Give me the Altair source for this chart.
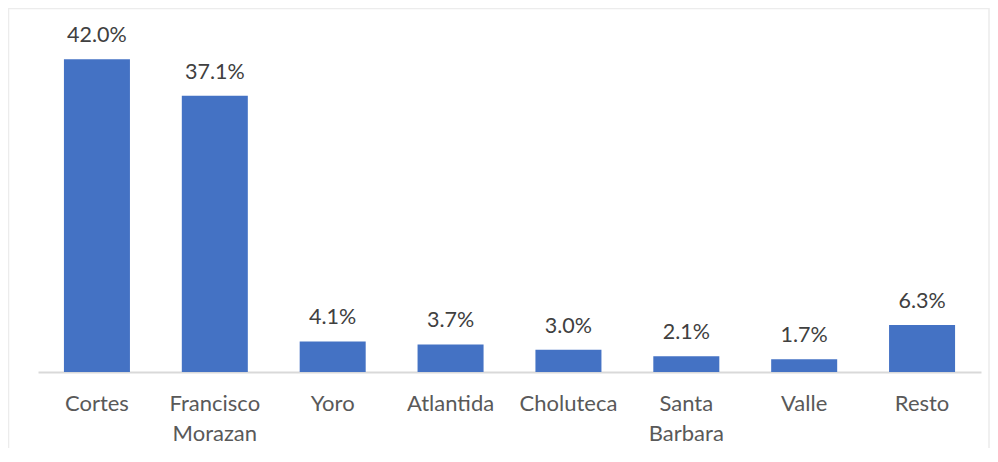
import altair as alt
import pandas as pd

categories = ["Cortes", "Francisco Morazan", "Yoro", "Atlantida", "Choluteca",
              "Santa Barbara", "Valle", "Resto"]
values = [42.0, 37.1, 4.1, 3.7, 3.0, 2.1, 1.7, 6.3]

df = pd.DataFrame({"cat": categories, "v": values})

FONT = "Lato"

x = alt.X("cat:N", sort=categories, title=None,
          scale=alt.Scale(paddingInner=0.44, paddingOuter=0.22),
          axis=alt.Axis(labelAngle=0, labelExpr="split(datum.label, ' ')",
                        labelFont=FONT, labelFontSize=22, labelColor="#595959",
                        labelLineHeight=30, labelPadding=21, ticks=False, tickSize=0,
                        domainColor="#d9d9d9", domainWidth=2, labelBaseline="top"))
y = alt.Y("v:Q", title=None, scale=alt.Scale(domain=[0, 45], nice=False),
          axis=None)

bars = alt.Chart(df).mark_bar(color="#4472C4").encode(x=x, y=y)

labels = alt.Chart(df).transform_calculate(
    lab="format(datum.v, '.1f') + '%'"
).mark_text(baseline="bottom", dy=-12, font=FONT, fontSize=21.5,
            color="#404040").encode(x=x, y=y, text="lab:N")

border = alt.Chart(alt.Data(values=[{}])).mark_rect(
    fill="transparent", stroke="#ececec", strokeWidth=1.5
).encode(x=alt.value(-29.5), x2=alt.value(951), y=alt.value(-28.5), y2=alt.value(700))

chart = alt.layer(border, bars, labels).properties(
    width=943, height=335,
    autosize=alt.AutoSizeParams(type="none"),
    padding={"left": 30, "top": 29, "right": 9, "bottom": 76},
    background="white",
).configure_view(strokeWidth=0)

chart.save("out.html", embed_options={"renderer": "svg", "actions": False})
